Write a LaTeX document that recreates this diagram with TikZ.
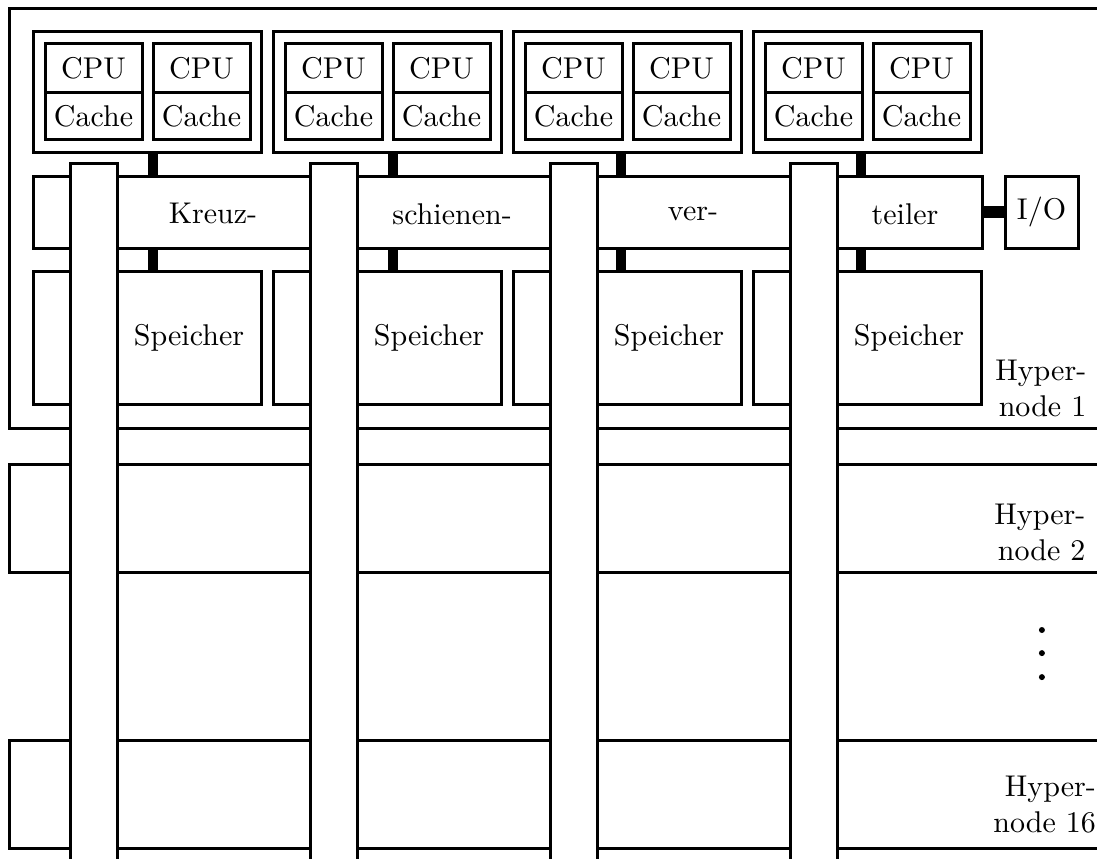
\documentclass[tikz,border=0pt]{standalone}
\usepackage{tikz}
\usetikzlibrary{positioning}
\tikzset{
  hyperframe/.style={line width=1pt},
  groupbox/.style={draw, line width=1pt, outer sep=0pt, minimum width=76pt, minimum height=40.33pt},
  cpubox/.style={draw, line width=1pt, outer sep=0pt, inner sep=0pt, minimum width=32.33pt, minimum height=16.33pt},
  cachebox/.style={cpubox, minimum height=15.67pt},
  membox/.style={draw, line width=1pt, outer sep=0pt, minimum width=76pt, minimum height=44.33pt},
  xbarbox/.style={draw, line width=1pt, outer sep=0pt, minimum width=316.33pt, minimum height=24pt},
  iobox/.style={draw, line width=1pt, outer sep=0pt, minimum width=24.33pt, minimum height=24pt},
  busbar/.style={draw, fill=white, line width=1pt, outer sep=0pt, minimum width=15.67pt, minimum height=240.33pt},
  link/.style={line width=3.33pt},
  hyplabel/.style={align=right, inner sep=0pt, anchor=east},
}

\begin{document}
\begin{tikzpicture}[x=1pt, y=-1pt]
  \useasboundingbox (0,0) rectangle (365.67,286.33);
  \clip (0,0) rectangle (365.67,286.33);

  % Hypernodes
  \draw[hyperframe] (3,2.8) rectangle (380,142.7);
  \draw[hyperframe] (3,154.7) rectangle (380,190.7);
  \draw[hyperframe] (3,246.7) rectangle (380,282.7);

  % Crossbar and I/O
  \node[xbarbox] (xbar) at (169.17,70.67) {};
  \node[iobox] (io) at (347.17,70.67) {I/O};
  \draw[link, line width=4pt] (xbar.east) -- (io.west);
  \node (kreuz) at (71,71.3) {Kreuz-};
  \node (schienen) at (150.7,71.3) {schienen-};
  \node (ver) at (231,71.3) {ver-};
  \node (teiler) at (301.7,71.3) {teiler};

  % Processor groups and memories
  \foreach \i/\cx in {1/51,2/131,3/207,4/287} {
    \node[groupbox] (grp\i) at ({49+80*(\i-1)},30.83) {};
    \node[cpubox] (cpua\i) at ({31.17+80*(\i-1)},22.83) {CPU};
    \node[cachebox, below=0pt of cpua\i] (cachea\i) {Cache};
    \node[cpubox] (cpub\i) at ({67.17+80*(\i-1)},22.83) {CPU};
    \node[cachebox, below=0pt of cpub\i] (cacheb\i) {Cache};
    \node[membox] (mem\i) at ({49+80*(\i-1)},112.5) {};
    \node[anchor=base] (speicher\i) at ({63+80*(\i-1)},115) {Speicher};
    \draw[link] (grp\i.south -| \cx,0) -- (xbar.north -| \cx,0);
    \draw[link] (xbar.south -| \cx,0) -- (mem\i.north -| \cx,0);
  }

  % Buses through all hypernodes
  \foreach \i in {1,...,4}
    \node[busbar] (bus\i) at ({31.17+80*(\i-1)},174.83) {};

  % Labels
  \node[hyplabel] (hn1) at (362.3,129.5) {Hyper-\\node 1};
  \node[hyplabel] (hn2) at (362,177.5) {Hyper-\\node 2};
  \node[hyplabel] (hn16) at (365.5,268.3) {Hyper-\\node 16};
  \foreach \y in {210,217.7,225.7}
    \fill (347.3,\y) circle (1pt);
\end{tikzpicture}
\end{document}
